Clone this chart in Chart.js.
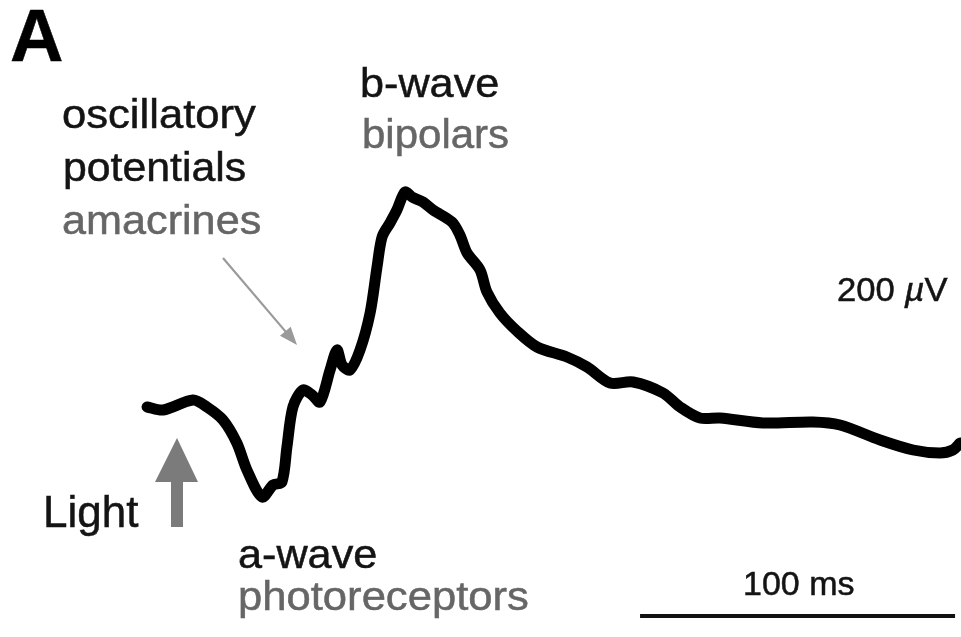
<!DOCTYPE html>
<html>
<head>
<meta charset="utf-8">
<script src="https://cdn.jsdelivr.net/npm/chart.js@4"></script>
<style>
  html, body { margin: 0; padding: 0; background: #fff; }
  #wrap { position: relative; width: 961px; height: 637px; overflow: hidden; }
  #erg { position: absolute; left: 0; top: 0; }
  .lbl { position: absolute; white-space: nowrap; line-height: 1;
         font-family: "Liberation Sans", Arial, sans-serif;
         transform-origin: 0 0; -webkit-text-stroke: 0.5px currentColor; }
</style>
</head>
<body>
<div id="wrap">
  <canvas id="erg" width="961" height="637"></canvas>
</div>
<script>
// ERG trace, time from light onset (ms) and amplitude (µV)
const timeMs = [
  -9.5, -4.4, 5.1, 9.5, 14.6, 19.0, 22.2, 27.0, 30.5, 33.3, 34.9, 36.8,
  40.0, 42.9, 45.4, 48.6, 50.8, 52.4, 54.9, 58.1, 61.3, 63.5, 65.1, 67.6,
  69.8, 72.4, 74.6, 78.1, 81.3, 87.3, 89.8, 92.1, 96.2, 98.4, 102.5, 107.9,
  114.3, 123.8, 130.2, 137.5, 144.8, 154.3, 159.7, 166.0, 172.4, 186.0,
  201.9, 210.5, 223.2, 233.7, 242.2, 246.3, 248.6
];
const voltageUV = [
  0, -6, 14, 0, -26, -72, -126, -180, -156, -150, -80, 0,
  34, 24, 10, 74, 114, 84, 74, 114, 188, 280, 340, 368,
  394, 430, 420, 410, 394, 370, 344, 308, 274, 230, 188, 152,
  120, 100, 80, 48, 50, 28, 0, -22, -22, -32,
  -30, -36, -66, -86, -92, -86, -72
];

// scale bar: 100 ms
const scaleBarMs = [147, 247];
const scaleBarLevel = -418;

const points = timeMs.map((t, i) => ({ x: t, y: voltageUV[i] }));

// arrows and scale bar, placed through the chart scales
const extras = {
  id: "extras",
  afterDatasetsDraw(chart) {
    const c = chart.ctx;
    const xs = chart.scales.x, ys = chart.scales.y;
    const X = v => xs.getPixelForValue(v), Y = v => ys.getPixelForValue(v);
    c.save();

    // scale bar
    c.strokeStyle = "#111";
    c.lineWidth = 4;
    c.beginPath();
    c.moveTo(X(scaleBarMs[0]), Y(scaleBarLevel));
    c.lineTo(X(scaleBarMs[1]), Y(scaleBarLevel));
    c.stroke();

    // light stimulus arrow at t = 0
    c.fillStyle = "#7b7b7b";
    c.strokeStyle = "#7b7b7b";
    c.lineWidth = 12;
    c.beginPath();
    c.moveTo(X(0), Y(-240));
    c.lineTo(X(0), Y(-140));
    c.stroke();
    c.beginPath();
    c.moveTo(X(0), Y(-62));
    c.lineTo(X(0) - 22, Y(-150));
    c.lineTo(X(0) + 21, Y(-150));
    c.closePath();
    c.fill();

    // pointer to oscillatory potentials
    const x0 = X(14.6), y0 = Y(298), x1 = X(38.1), y1 = Y(124);
    const ang = Math.atan2(y1 - y0, x1 - x0);
    c.strokeStyle = "#9a9a9a";
    c.fillStyle = "#9a9a9a";
    c.lineWidth = 2.2;
    c.beginPath();
    c.moveTo(x0, y0);
    c.lineTo(x1 - 12 * Math.cos(ang), y1 - 12 * Math.sin(ang));
    c.stroke();
    c.beginPath();
    c.moveTo(x1, y1);
    c.lineTo(x1 - 18 * Math.cos(ang) + 7 * Math.sin(ang), y1 - 18 * Math.sin(ang) - 7 * Math.cos(ang));
    c.lineTo(x1 - 18 * Math.cos(ang) - 7 * Math.sin(ang), y1 - 18 * Math.sin(ang) + 7 * Math.cos(ang));
    c.closePath();
    c.fill();

    c.restore();
  }
};

new Chart(document.getElementById("erg"), {
  type: "scatter",
  data: {
    datasets: [{
      data: points,
      showLine: true,
      borderColor: "#000",
      borderWidth: 11,
      borderCapStyle: "round",
      borderJoinStyle: "round",
      tension: 0.3,
      pointRadius: 0,
      clip: false
    }]
  },
  options: {
    responsive: false,
    animation: false,
    layout: { padding: 0 },
    scales: {
      x: { type: "linear", min: -56.19, max: 248.89, display: false },
      y: { type: "linear", min: -460, max: 814, display: false }
    },
    plugins: { legend: { display: false }, tooltip: { enabled: false } }
  },
  plugins: [extras]
});

// text labels (left, baseline, size, horizontal stretch)
const dark = "#141414", grey = "#666";
const labels = [
  { t: "A", x: 10, b: 62, s: 74, w: "bold", c: "#000", k: 1 },
  { t: "oscillatory", x: 62, b: 128, s: 40, c: dark, k: 1.09 },
  { t: "potentials", x: 63, b: 181, s: 40, c: dark, k: 1.07 },
  { t: "amacrines", x: 62, b: 234, s: 40, c: grey, k: 1.08 },
  { t: "b-wave", x: 360, b: 97, s: 40, c: dark, k: 1.08 },
  { t: "bipolars", x: 362, b: 148, s: 40, c: grey, k: 1.05 },
  { t: "Light", x: 43, b: 527, s: 44, c: dark, k: 1 },
  { t: "a-wave", x: 238, b: 568, s: 40, c: dark, k: 1.08 },
  { t: "photoreceptors", x: 238, b: 610, s: 40, c: grey, k: 1.09 },
  { t: "200 <i>µ</i>V", x: 837, b: 301, s: 33, c: dark, k: 1.05 },
  { t: "100 ms", x: 743, b: 595, s: 33, c: dark, k: 1.03 }
];
const wrap = document.getElementById("wrap");
labels.forEach(l => {
  const d = document.createElement("div");
  d.className = "lbl";
  d.innerHTML = l.t;
  d.style.left = l.x + "px";
  d.style.top = (l.b - 0.8465 * l.s) + "px";
  d.style.fontSize = l.s + "px";
  d.style.color = l.c;
  d.style.fontWeight = l.w || "normal";
  d.style.transform = "scaleX(" + l.k + ")";
  wrap.appendChild(d);
});
</script>
</body>
</html>
